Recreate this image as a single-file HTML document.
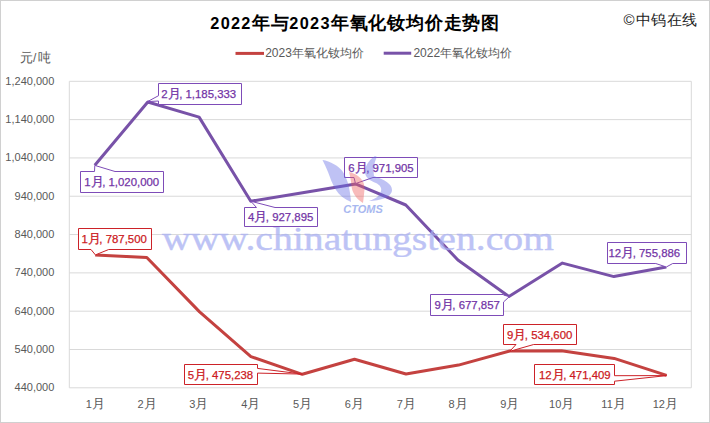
<!DOCTYPE html>
<html><head><meta charset="utf-8"><style>
html,body{margin:0;padding:0;background:#fff;}
svg{display:block;}
text{font-family:"Liberation Sans",sans-serif;}
.ax{font-size:11px;fill:#595959;}
.title{font-size:18.8px;font-weight:bold;fill:#000;}
.tc{font-weight:600;font-size:18px;letter-spacing:0.8px;}
.td{font-size:16.3px;letter-spacing:1.3px;}
.copy{font-size:15px;fill:#222;}
.unit{font-size:13px;fill:#595959;}
.leg{font-size:12px;fill:#595959;}
.dl{font-size:11.4px;stroke-width:0.25px;}
.axc{font-size:13px;}
.wm{font-family:"Liberation Serif",serif;font-size:34px;fill:#A8AFF2;stroke:#A8AFF2;stroke-width:0.4px;opacity:0.75;}
.logo{font-size:11px;font-weight:bold;font-style:italic;fill:#A8B8F0;}
</style></head><body>
<svg width="710" height="423" viewBox="0 0 710 423">
<rect x="0.5" y="0.5" width="709" height="422" fill="#fff" stroke="#D0D0D0" stroke-width="1"/>
<line x1="69.3" y1="81.30" x2="691.3" y2="81.30" stroke="#D9D9D9" stroke-width="1"/>
<line x1="69.3" y1="119.61" x2="691.3" y2="119.61" stroke="#D9D9D9" stroke-width="1"/>
<line x1="69.3" y1="157.93" x2="691.3" y2="157.93" stroke="#D9D9D9" stroke-width="1"/>
<line x1="69.3" y1="196.24" x2="691.3" y2="196.24" stroke="#D9D9D9" stroke-width="1"/>
<line x1="69.3" y1="234.55" x2="691.3" y2="234.55" stroke="#D9D9D9" stroke-width="1"/>
<line x1="69.3" y1="272.86" x2="691.3" y2="272.86" stroke="#D9D9D9" stroke-width="1"/>
<line x1="69.3" y1="311.18" x2="691.3" y2="311.18" stroke="#D9D9D9" stroke-width="1"/>
<line x1="69.3" y1="349.49" x2="691.3" y2="349.49" stroke="#D9D9D9" stroke-width="1"/>
<line x1="69.3" y1="387.80" x2="691.3" y2="387.80" stroke="#D9D9D9" stroke-width="1"/>
<line x1="69.3" y1="81.3" x2="69.3" y2="387.8" stroke="#D9D9D9" stroke-width="1"/>
<line x1="691.3" y1="81.3" x2="691.3" y2="387.8" stroke="#D9D9D9" stroke-width="1"/>
<text x="54.3" y="84.70" text-anchor="end" class="ax">1,240,000</text>
<text x="54.3" y="123.01" text-anchor="end" class="ax">1,140,000</text>
<text x="54.3" y="161.33" text-anchor="end" class="ax">1,040,000</text>
<text x="54.3" y="199.64" text-anchor="end" class="ax">940,000</text>
<text x="54.3" y="237.95" text-anchor="end" class="ax">840,000</text>
<text x="54.3" y="276.26" text-anchor="end" class="ax">740,000</text>
<text x="54.3" y="314.57" text-anchor="end" class="ax">640,000</text>
<text x="54.3" y="352.89" text-anchor="end" class="ax">540,000</text>
<text x="54.3" y="391.20" text-anchor="end" class="ax">440,000</text>
<text x="95.22" y="408" text-anchor="middle" class="ax">1<tspan class="axc">月</tspan></text>
<text x="147.05" y="408" text-anchor="middle" class="ax">2<tspan class="axc">月</tspan></text>
<text x="198.88" y="408" text-anchor="middle" class="ax">3<tspan class="axc">月</tspan></text>
<text x="250.72" y="408" text-anchor="middle" class="ax">4<tspan class="axc">月</tspan></text>
<text x="302.55" y="408" text-anchor="middle" class="ax">5<tspan class="axc">月</tspan></text>
<text x="354.38" y="408" text-anchor="middle" class="ax">6<tspan class="axc">月</tspan></text>
<text x="406.22" y="408" text-anchor="middle" class="ax">7<tspan class="axc">月</tspan></text>
<text x="458.05" y="408" text-anchor="middle" class="ax">8<tspan class="axc">月</tspan></text>
<text x="509.88" y="408" text-anchor="middle" class="ax">9<tspan class="axc">月</tspan></text>
<text x="561.72" y="408" text-anchor="middle" class="ax">10<tspan class="axc">月</tspan></text>
<text x="613.55" y="408" text-anchor="middle" class="ax">11<tspan class="axc">月</tspan></text>
<text x="665.38" y="408" text-anchor="middle" class="ax">12<tspan class="axc">月</tspan></text>
<text x="210.3" y="28.6" class="title"><tspan class="td">2022</tspan><tspan class="tc">年与</tspan><tspan class="td">2023</tspan><tspan class="tc">年氧化钕均价走势图</tspan></text>
<text x="623.5" y="25" class="copy">©<tspan dx="1.5" style="font-size:14.5px;letter-spacing:0.4px">中钨在线</tspan></text>
<text x="19.5" y="62.3" class="unit">元<tspan dx="0.5" style="font-size:12px">/</tspan><tspan dx="2">吨</tspan></text>
<line x1="235.5" y1="53.4" x2="264" y2="53.4" stroke="#C44240" stroke-width="3"/>
<text x="265.2" y="56.6" class="leg">2023年氧化钕均价</text>
<line x1="383.7" y1="53.2" x2="411.2" y2="53.2" stroke="#7852A8" stroke-width="3"/>
<text x="413.4" y="56.6" class="leg">2022年氧化钕均价</text>
<polyline points="95.2,254.9 146.8,257.5 199.6,311.9 250.9,356.6 302.3,374.3 354.5,359.3 406.0,374.0 458.5,365.1 509.8,351.0 561.5,350.8 614.2,358.4 666.6,375.4" fill="none" stroke="#C44240" stroke-width="3" stroke-linejoin="round"/>
<polyline points="94.8,165.3 147.8,102.0 199.1,117.1 250.8,201.2 302.6,192.7 355.5,183.9 405.8,205.0 457.9,260.0 508.9,296.5 562.4,263.1 613.9,276.6 666.3,267.0" fill="none" stroke="#7852A8" stroke-width="3" stroke-linejoin="round"/>
<text x="162" y="249.5" class="wm" textLength="392" lengthAdjust="spacingAndGlyphs">www.chinatungsten.com</text>
<path d="M80.5,171.5 L94.5,171.5 L94.8,165.4 L115,171.5 L163.5,171.5 L163.5,192.5 L80.5,192.5 Z" fill="#fff" stroke="#7E4CB8" stroke-width="1"/><text x="84.3" y="186.2" class="dl" fill="#7234A6" stroke="#7234A6">1<tspan style="font-size:12.5px">月</tspan><tspan dx="-1.5">, 1,020,000</tspan></text>
<path d="M158.5,83.5 L241.5,83.5 L241.5,104.5 L158.5,104.5 L158.5,101 L147.6,101.6 L158.5,95.7 Z" fill="#fff" stroke="#7E4CB8" stroke-width="1"/><text x="161.3" y="98.2" class="dl" fill="#7234A6" stroke="#7234A6">2<tspan style="font-size:12.5px">月</tspan><tspan dx="-1.5">, 1,185,333</tspan></text>
<path d="M244.5,207.5 L256.5,207.5 L250.8,201.2 L275,207.5 L317.5,207.5 L317.5,226.5 L244.5,226.5 Z" fill="#fff" stroke="#7E4CB8" stroke-width="1"/><text x="248.0" y="221.2" class="dl" fill="#7234A6" stroke="#7234A6">4<tspan style="font-size:12.5px">月</tspan><tspan dx="-1.5">, 927,895</tspan></text>
<path d="M344.5,157.5 L417.5,157.5 L417.5,177.5 L373,177.5 L355.5,183.6 L354,177.5 L344.5,177.5 Z" fill="#fff" stroke="#7E4CB8" stroke-width="1"/><text x="348.3" y="171.7" class="dl" fill="#7234A6" stroke="#7234A6">6<tspan style="font-size:12.5px">月</tspan><tspan dx="-1.5">, 971,905</tspan></text>
<path d="M430.5,294.5 L503.5,294.5 L503.5,295 L509.3,296.7 L503.5,302 L503.5,315.5 L430.5,315.5 Z" fill="#fff" stroke="#7E4CB8" stroke-width="1"/><text x="434.5" y="309.2" class="dl" fill="#7234A6" stroke="#7234A6">9<tspan style="font-size:12.5px">月</tspan><tspan dx="-1.5">, 677,857</tspan></text>
<path d="M607.5,242.5 L686.5,242.5 L686.5,263.5 L672.7,263.5 L666.3,267 L655.8,263.5 L607.5,263.5 Z" fill="#fff" stroke="#7E4CB8" stroke-width="1"/><text x="608.5" y="257.2" class="dl" fill="#7234A6" stroke="#7234A6">12<tspan style="font-size:12.5px">月</tspan><tspan dx="-1.5">, 755,886</tspan></text>
<path d="M78.5,228.5 L151.5,228.5 L151.5,249.5 L108.7,249.5 L95.4,254.9 L91,249.5 L78.5,249.5 Z" fill="#fff" stroke="#CC2228" stroke-width="1"/><text x="81.5" y="243.2" class="dl" fill="#CC1A22" stroke="#CC1A22">1<tspan style="font-size:12.5px">月</tspan><tspan dx="-1.5">, 787,500</tspan></text>
<path d="M184.5,364.5 L257.5,364.5 L257.5,368.4 L302.3,374.1 L257.5,373.1 L257.5,384.5 L184.5,384.5 Z" fill="#fff" stroke="#CC2228" stroke-width="1"/><text x="187.8" y="378.7" class="dl" fill="#CC1A22" stroke="#CC1A22">5<tspan style="font-size:12.5px">月</tspan><tspan dx="-1.5">, 475,238</tspan></text>
<path d="M503.5,324.5 L576.5,324.5 L576.5,344.5 L533.7,344.5 L509.8,351.3 L516,344.5 L503.5,344.5 Z" fill="#fff" stroke="#CC2228" stroke-width="1"/><text x="507.0" y="338.7" class="dl" fill="#CC1A22" stroke="#CC1A22">9<tspan style="font-size:12.5px">月</tspan><tspan dx="-1.5">, 534,600</tspan></text>
<path d="M534.5,364.5 L614.5,364.5 L614.5,375.7 L666.6,375.6 L614.5,381.2 L614.5,384.5 L534.5,384.5 Z" fill="#fff" stroke="#CC2228" stroke-width="1"/><text x="539.0" y="378.7" class="dl" fill="#CC1A22" stroke="#CC1A22">12<tspan style="font-size:12.5px">月</tspan><tspan dx="-1.5">, 471,409</tspan></text>
<g opacity="0.42">
<path d="M322.5,160 C330,161 339,166 343,172 C347,178 349,186 350,193 C350.5,197 351,200 351,202 C344,199 339,195 336,190 C332,184 330,177 328,172 C326,167 324,163 322.5,160 Z" fill="#6870E6"/>
<path d="M375,156 C369,160 365,166 365,172 C365,178 371,181 376,183 C380,185 382,188 381,191 C380,196 375,199 369,201 C380,201 392,197 392,190 C392,184 385,180 374,176 C373,170 374,162 377,157 Z" fill="#6870E6"/>
<path d="M349,172 C358,174 365,180 364.5,189 C364,195 363.5,199 363,203 C356,199 352,192 351.5,186 C351,180 350,176 349,172 Z" fill="#F06060"/>
</g>
<text x="363" y="213" text-anchor="middle" class="logo">CTOMS</text>
</svg>
</body></html>
